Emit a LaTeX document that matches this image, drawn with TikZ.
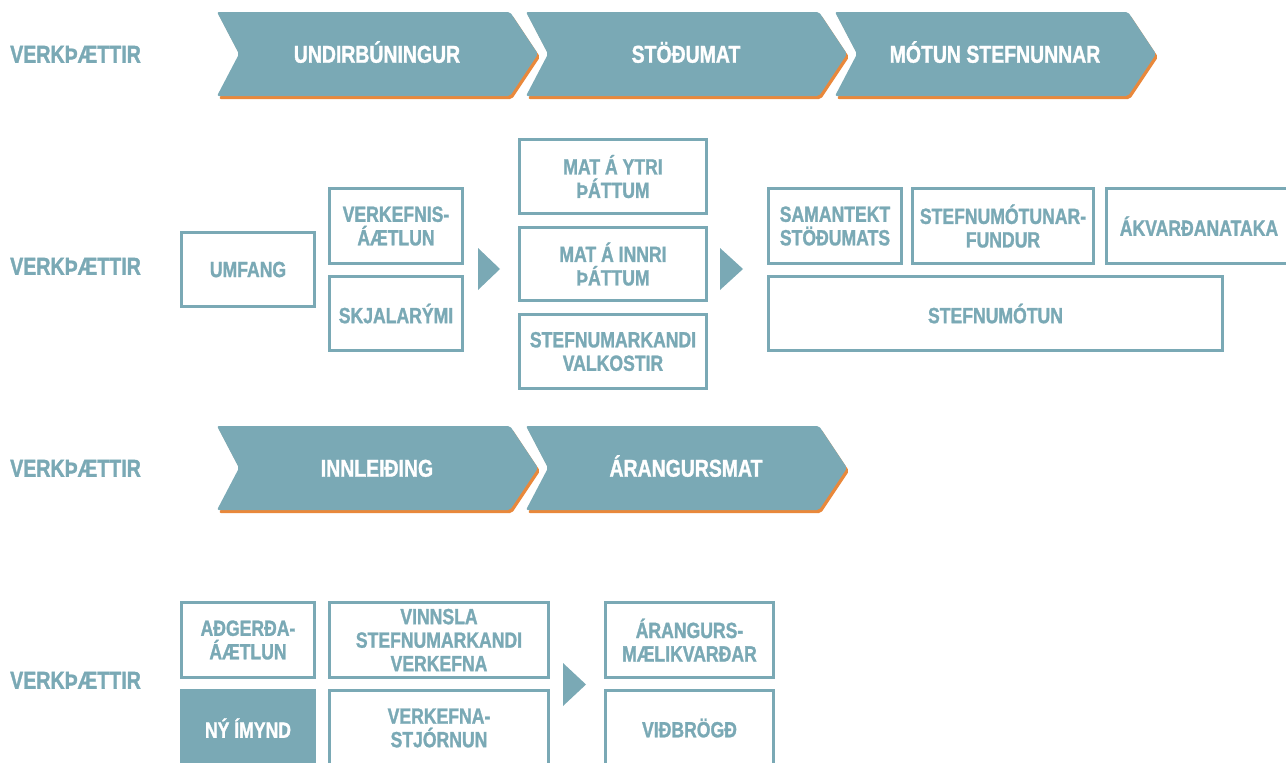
\documentclass[tikz,border=0pt]{standalone}
\usepackage{fontspec}
\setmainfont{Liberation Sans}[FakeStretch=0.8, BoldFeatures={FakeBold=1.3}]
\definecolor{teal1}{HTML}{7AA9B5}
\definecolor{orng}{HTML}{E9883B}
\tikzset{
  box/.style={draw=teal1, line width=3pt, text=teal1, align=center, inner sep=0pt,
    font=\bfseries\fontsize{22}{23.5}\selectfont},
  fillbox/.style={box, fill=teal1, text=white},
  chevtext/.style={text=white, font=\bfseries\fontsize{24.3}{26}\selectfont, inner sep=0pt,
    text height=17.4pt, text depth=0pt},
  rowlabel/.style={text=teal1, anchor=west, inner sep=0pt, font=\bfseries\fontsize{24.5}{26}\selectfont,
    text height=17.5pt, text depth=0pt},
  tri/.style={fill=teal1}
}
\newcommand{\chev}[4]{% x0, ytop, name, text
  \fill[orng, rounded corners=2pt, shift={(2,3)}] (#1,#2) -- ++(293,0) -- ++(28,42) -- ++(-28,42) -- ++(-293,0) -- ++(22,-42) -- cycle;
  \fill[teal1, rounded corners=2pt] (#1,#2) -- ++(293,0) -- ++(28,42) -- ++(-28,42) -- ++(-293,0) -- ++(22,-42) -- cycle;
  \node[chevtext] (#3) at (#1+160,#2+42) {#4};
}
\begin{document}
\begin{tikzpicture}[x=1pt,y=-1pt]
\useasboundingbox (0,0) rectangle (1286,763);
\clip (0,0) rectangle (1286,763);
% row labels
\node[rowlabel] (l1) at (10,54) {VERKÞÆTTIR};
\node[rowlabel] (l2) at (10,266) {VERKÞÆTTIR};
\node[rowlabel] (l3) at (10,468) {VERKÞÆTTIR};
\node[rowlabel] (l4) at (10,680) {VERKÞÆTTIR};
% chevrons
\chev{217}{12}{c1}{UNDIRBÚNINGUR}
\chev{526}{12}{c2}{STÖÐUMAT}
\chev{835}{12}{c3}{MÓTUN STEFNUNNAR}
\chev{217}{426}{c4}{INNLEIÐING}
\chev{526}{426}{c5}{ÁRANGURSMAT}
% row 2
\node[box, minimum width=133, minimum height=74] (umfang) at (248,269.5) {UMFANG};
\node[box, minimum width=133, minimum height=75] (verkefnis) at (396,226) {VERKEFNIS-\\ÁÆTLUN};
\node[box, minimum width=133, minimum height=74] (skjal) at (396,313.5) {SKJALARÝMI};
\fill[tri] (478,248) -- (500,269) -- (478,290) -- cycle;
\node[box, minimum width=187, minimum height=74] (ytri) at (613,176.5) {MAT Á YTRI\\ÞÁTTUM};
\node[box, minimum width=187, minimum height=73] (innri) at (613,264) {MAT Á INNRI\\ÞÁTTUM};
\node[box, minimum width=187, minimum height=74] (valk) at (613,351.5) {STEFNUMARKANDI\\VALKOSTIR};
\fill[tri] (720,248) -- (743,269) -- (720,290) -- cycle;
\node[box, minimum width=133, minimum height=75] (saman) at (835,226) {SAMANTEKT\\STÖÐUMATS};
\node[box, minimum width=181, minimum height=75] (fundur) at (1003,226) {STEFNUMÓTUNAR-\\FUNDUR};
\node[box, minimum width=185, minimum height=75] (akv) at (1199,226) {ÁKVARÐANATAKA};
\node[box, minimum width=454, minimum height=74] (stefnu) at (995.5,313.5) {STEFNUMÓTUN};
% row 4
\node[box, minimum width=133, minimum height=75] (adger) at (248,640) {AÐGERÐA-\\ÁÆTLUN};
\node[fillbox, minimum width=133, minimum height=75] (ny) at (248,728) {NÝ ÍMYND};
\node[box, minimum width=219, minimum height=75] (vinnsla) at (439,640) {VINNSLA\\STEFNUMARKANDI\\VERKEFNA};
\node[box, minimum width=219, minimum height=75] (verkstj) at (439,728) {VERKEFNA-\\STJÓRNUN};
\fill[tri] (563,663) -- (586,684.5) -- (563,706) -- cycle;
\node[box, minimum width=168, minimum height=75] (arang) at (689.5,640) {ÁRANGURS-\\MÆLIKVARÐAR};
\node[box, minimum width=168, minimum height=75] (vidbr) at (689.5,728) {VIÐBRÖGÐ};
\end{tikzpicture}
\end{document}
